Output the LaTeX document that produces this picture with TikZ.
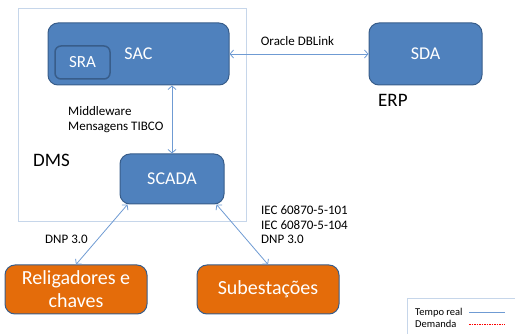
\documentclass[tikz,border=0pt]{standalone}
\usepackage{fontspec}
\setmainfont{Carlito}
\usetikzlibrary{arrows.meta}

\definecolor{boxblue}{HTML}{4F81BD}
\definecolor{boxedge}{HTML}{385D8A}
\definecolor{boxorange}{HTML}{E46C0A}
\definecolor{linkblue}{HTML}{6F9BD3}
\definecolor{frameblue}{HTML}{C6D6EA}

\tikzset{
  sysbox/.style={draw=boxedge, line width=1pt, fill=boxblue, rounded corners=10pt,
    text=white, font=\fontsize{18}{20}\selectfont, inner sep=0pt},
  fieldbox/.style={sysbox, fill=boxorange, font=\fontsize{20}{23}\selectfont,
    minimum width=142pt, minimum height=49pt},
  fieldtext/.style={text=white, font=\fontsize{20}{23}\selectfont, inner sep=0pt},
  link/.style={draw=linkblue, line width=0.8pt, {Straight Barb[length=3.5pt,width=8pt]}-{Straight Barb[length=3.5pt,width=8pt]}},
  note/.style={font=\fontsize{13}{14.5}\selectfont, align=left, inner sep=0pt},
  title/.style={anchor=west, font=\fontsize{19}{21}\selectfont, inner sep=0pt},
  legend/.style={anchor=west, font=\fontsize{10.5}{11}\selectfont, inner sep=0pt}
}

\begin{document}
\begin{tikzpicture}[x=1pt, y=-1pt]

\def \ytopbox    {54}
\def \yscada     {179}
\def \yfield     {289.5}

\useasboundingbox (0,0) rectangle (515,334);

% DMS frame
\draw [frameblue, line width=0.8pt] (18,8) rectangle (246,221);
\node [title] (dms) at (33,160) {DMS};

% systems
\node [sysbox, minimum width=181pt, minimum height=62pt] (sac) at (138.5,\ytopbox) {SAC};
\node [sysbox, line width=1.5pt, rounded corners=6pt, font=\fontsize{17}{19}\selectfont,
  minimum width=55pt, minimum height=33pt] (sra) at (82.5,62.5) {SRA};
\node [sysbox, minimum width=113pt, minimum height=62pt] (sda) at (425.5,\ytopbox) {SDA};
\node [title] (erp) at (378,100) {ERP};
\node [sysbox, minimum width=104pt, minimum height=50pt] (scada) at (172,\yscada) {SCADA};

% field equipment
\node [fieldbox] (relig) at (76,\yfield) {};
\node [fieldtext] (relig-a) at ([yshift=10.5pt]relig.center) {Religadores e};
\node [fieldtext] (relig-b) at ([yshift=-11pt]relig.center) {chaves};
\node [fieldbox] (subest) at (268,\yfield) {Subestações};

% links
\draw [link] (sac.east) -- (sda.west);
\draw [link] (scada.north) -- (scada.north |- sac.south);
\draw [link] ([xshift=8pt]scada.south west) -- (relig.north);
\draw [link] ([xshift=-8pt]scada.south east) -- (subest.north);

% link labels
\node [note] (oracle) at (297.5,41) {Oracle DBLink};
\node [note, anchor=west] (tibco) at (68,119.5) {Middleware\\Mensagens TIBCO};
\node [note, anchor=west] (dnp) at (45,239) {DNP 3.0};
\node [note, anchor=west] (iec) at (261,225) {IEC 60870-5-101\\IEC 60870-5-104\\DNP 3.0};

% legend
\draw [frameblue, line width=0.8pt] (515,298) -- (407,298) -- (407,334);
\node [legend] (lgreal) at (415,313) {Tempo real};
\node [legend] (lgdem) at (415,324) {Demanda};
\draw [linkblue, line width=1pt] (469,313) -- (505,313);
\draw [red, line width=0.6pt, dash pattern=on 1.5pt off 1pt] (469,324) -- (505,324);

\end{tikzpicture}
\end{document}
